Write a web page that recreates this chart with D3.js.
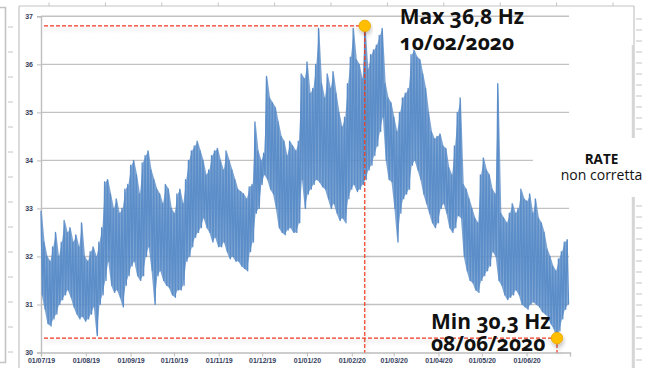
<!DOCTYPE html>
<html>
<head>
<meta charset="utf-8">
<script src="https://cdn.jsdelivr.net/npm/d3@7"></script>
<style>
  html, body { margin: 0; padding: 0; background: #fff; }
  svg { display: block; }
  .tick text { font-family: "Liberation Sans", Arial, sans-serif; }
</style>
</head>
<body>
<svg id="chart" width="648" height="368"></svg>
<script>
// Grid frequency (Hz), daily extremes sampled every two days from 01/07/2019
const startDate = new Date(2019, 6, 1);
const stepDays = 2;

const rateHigh = [
  32.95, 32.3, 32.0, 31.9, 32.2, 32.5, 32.0, 32.3, 32.75, 32.5,
  32.6, 32.3, 32.45, 32.2, 32.7, 32.0, 31.9, 32.1, 32.2, 32.0,
  32.3, 32.6, 33.55, 33.6, 33.3, 33.0, 33.2, 32.9, 33.0, 33.4,
  33.5, 33.9, 34.0, 33.7, 33.3, 33.95, 34.1, 34.2, 33.8, 33.6,
  33.4, 33.3, 33.1, 33.5, 33.4, 33.0, 32.9, 33.3, 33.4, 33.1,
  33.6, 34.0, 34.2, 34.3, 34.4, 34.2, 34.0, 33.7, 33.8, 34.1,
  34.2, 34.25, 34.0, 33.8, 34.2, 34.0, 33.8, 33.6, 33.4, 33.35,
  33.3, 33.2, 33.45, 33.5, 34.8, 34.2, 34.0, 34.15, 35.75, 35.3,
  35.2, 35.1, 34.8, 34.5, 34.4, 34.1, 34.4, 34.3, 34.2, 34.4,
  35.8, 35.7, 36.05, 35.4, 35.5, 36.0, 36.75, 35.6, 35.3, 35.8,
  35.5, 35.85, 35.4, 35.0, 34.7, 34.9, 35.6, 36.15, 36.75, 36.1,
  36.0, 35.7, 36.8, 35.9, 36.2, 36.3, 36.4, 36.6, 36.75, 35.6,
  35.3, 35.2, 34.9, 34.6, 35.0, 35.3, 35.4, 35.5, 36.2, 36.3,
  36.15, 36.1, 35.8, 35.5, 35.0, 34.6, 34.45, 34.5, 34.55, 34.3,
  34.25, 33.85, 33.7, 34.3, 35.0, 35.3, 33.5, 33.4, 33.2, 33.0,
  32.8, 32.7, 33.7, 34.05, 33.8, 33.7, 33.4, 33.3, 35.6, 32.9,
  32.8, 32.7, 32.9, 33.1, 32.9, 33.0, 33.4, 33.2, 33.15, 33.3,
  32.9, 33.2, 32.8, 32.7, 32.5, 32.15, 32.0, 31.8, 31.7, 31.95,
  32.1, 32.3, 32.35
];

const rateLow = [
  31.2, 30.9, 30.6, 30.55, 30.7, 30.8, 31.0, 31.1, 31.2, 31.3,
  31.15, 30.95, 30.8, 30.7, 30.75, 30.65, 30.7, 30.8, 30.95, 30.35,
  31.0, 31.2, 31.5, 31.9, 31.4, 31.25, 31.3, 31.15, 30.95, 31.4,
  31.6, 31.8, 31.9, 31.6, 31.5, 31.6, 32.0, 32.2, 31.7, 31.0,
  31.6, 31.7, 31.5, 31.4, 31.35, 31.2, 31.15, 31.3, 31.3, 31.4,
  31.9, 32.0, 32.2, 32.4, 32.5, 32.6, 32.8, 32.6, 32.5, 32.3,
  32.4, 32.2, 32.2, 32.3, 32.1, 31.95, 32.0, 31.9, 31.9, 31.8,
  31.75, 31.7, 32.1, 32.3, 32.9, 33.0, 33.5, 33.7, 33.6, 33.4,
  33.3, 33.0, 32.6, 32.5, 32.45, 32.55, 32.6, 32.5, 32.5, 32.7,
  33.6, 33.0, 33.3, 33.4, 33.5, 33.6, 33.55, 33.45, 33.4, 33.2,
  33.0, 33.1, 32.9, 32.75, 32.8, 32.7, 33.2, 33.4, 33.5, 33.35,
  33.4, 33.5, 33.6, 33.8, 33.9, 34.1, 34.3, 34.6, 34.9, 34.0,
  33.6, 33.55, 33.0, 32.3, 32.9, 33.2, 33.3, 33.4, 33.9, 34.0,
  33.8, 33.6, 33.3, 33.1, 32.9, 32.7, 32.6, 32.7, 33.0, 33.1,
  32.9, 32.6, 32.5, 32.6, 32.85, 32.8, 32.0, 31.7, 31.5, 31.45,
  31.3, 31.25, 31.5, 31.6, 31.7, 31.8, 32.1, 32.0, 31.5, 31.4,
  31.2, 31.1, 31.15, 31.2, 31.3, 31.2, 31.0, 30.95, 30.9, 31.0,
  31.05, 31.0, 30.95, 30.85, 30.8, 30.75, 30.6, 30.5, 30.3, 30.45,
  30.7, 30.9, 31.0
];

const yTicks = [30, 31, 32, 33, 34, 35, 36, 37];
const monthTicks = [
  "2019-07-01", "2019-08-01", "2019-09-01", "2019-10-01", "2019-11-01", "2019-12-01",
  "2020-01-01", "2020-02-01", "2020-03-01", "2020-04-01", "2020-05-01", "2020-06-01"
];
const maxText = ["Max 36,8 Hz", "10/02/2020"];
const minText = ["Min 30,3 Hz", "08/06/2020"];
const boxText = ["RATE", "non corretta"];

const svg = d3.select("#chart");
const W = 648, H = 368;
const plot = { left: 41, right: 570, top: 16.3, bottom: 352.5 };

const x = d3.scaleTime()
  .domain([startDate, new Date(2020, 6, 1)])
  .range([plot.left, plot.right]);
const y = d3.scaleLinear()
  .domain([30, 37])
  .range([plot.bottom, plot.top]);

// soft shadow used by the annotation shapes
const defs = svg.append("defs");
const sh = defs.append("filter").attr("id", "shadow")
  .attr("x", "-20%").attr("y", "-50%").attr("width", "140%").attr("height", "300%");
sh.append("feDropShadow")
  .attr("dx", 1).attr("dy", 3).attr("stdDeviation", 2.2)
  .attr("flood-color", "#000").attr("flood-opacity", 0.22);

// ---- surrounding slide frame ----
const frame = svg.append("g").attr("stroke", "#c4c4c4").attr("fill", "none");
frame.append("path").attr("d", "M0,7.5H5.5V362.5H0").attr("stroke-width", 1.6);
frame.append("line").attr("x1", 19).attr("x2", 19).attr("y1", 6).attr("y2", H).attr("stroke-width", 1.2);
frame.append("line").attr("x1", 19).attr("x2", 634).attr("y1", 6).attr("y2", 6).attr("stroke-width", 1.2);
frame.append("line").attr("x1", 634).attr("x2", 634).attr("y1", 6).attr("y2", H).attr("stroke-width", 1.2);
frame.append("line").attr("x1", 633).attr("x2", 633).attr("y1", 45).attr("y2", H).attr("stroke-width", 2.5).attr("stroke", "#d6d6d6");
frame.selectAll(".lt").data(d3.range(27, H, 25)).join("line")
  .attr("x1", 8).attr("x2", 13).attr("y1", d => d).attr("y2", d => d).attr("stroke-width", 1);
frame.selectAll(".tt").data(d3.range(49, 634, 56.4)).join("line")
  .attr("x1", d => d).attr("x2", d => d).attr("y1", 2.5).attr("y2", 6).attr("stroke-width", 1);
frame.selectAll(".rt").data(d3.range(19, H, 11)).join("line")
  .attr("x1", 636).attr("x2", 642).attr("y1", d => d).attr("y2", d => d).attr("stroke-width", 1);

// ---- gridlines ----
svg.append("g").selectAll("line").data(yTicks.filter(v => v > 30)).join("line")
  .attr("x1", plot.left).attr("x2", 569)
  .attr("y1", d => y(d)).attr("y2", d => y(d))
  .attr("stroke", "#c2c2c2").attr("stroke-width", 1.4);

// ---- axes ----
const labelColor = "#34405e";
const yAxis = svg.append("g").attr("transform", `translate(${plot.left},0)`)
  .call(d3.axisLeft(y).tickValues(yTicks).tickSize(4).tickPadding(4).tickFormat(d3.format("d")));
const xAxis = svg.append("g").attr("transform", `translate(0,${plot.bottom})`)
  .call(d3.axisBottom(x).tickValues(monthTicks.map(s => d3.timeParse("%Y-%m-%d")(s)))
    .tickSize(4).tickPadding(2).tickFormat(d3.timeFormat("%d/%m/%y")));
[yAxis, xAxis].forEach(a => {
  a.select(".domain").attr("stroke", "#bdbdbd").attr("stroke-width", 1.4);
  a.selectAll(".tick line").attr("stroke", "#bdbdbd");
  a.selectAll(".tick text").attr("fill", labelColor).attr("font-size", 7).attr("font-weight", "bold");
});

// ---- series: each sample spans its high then its low ----
const seriesColor = "#5b8dc8";
const samples = rateHigh.map((hi, i) => ({
  date: d3.timeDay.offset(startDate, i * stepDays), hi, lo: rateLow[i]
}));
const series = [];
samples.forEach(s => {
  series.push({ date: s.date, v: s.hi });
  series.push({ date: d3.timeDay.offset(s.date, 1), v: s.lo });
});

// daily range band
svg.append("path").datum(samples)
  .attr("d", d3.area()
    .x(d => x(d3.timeHour.offset(d.date, 12)))
    .y0(d => y(d.lo)).y1(d => y(d.hi)))
  .attr("fill", seriesColor).attr("fill-opacity", 0.8);

// trace
svg.append("path").datum(series)
  .attr("d", d3.line().x(d => x(d.date)).y(d => y(d.v)))
  .attr("fill", "none")
  .attr("stroke", seriesColor)
  .attr("stroke-width", 1.3)
  .attr("stroke-linejoin", "round");

// ---- extremes ----
const iMax = d3.maxIndex(rateHigh);
const iMin = d3.minIndex(rateLow);
const maxPt = { date: d3.timeDay.offset(startDate, iMax * stepDays), v: rateHigh[iMax] };
const minPt = { date: d3.timeDay.offset(startDate, iMin * stepDays + 1), v: rateLow[iMin] };

const ann = svg.append("g");
[maxPt, minPt].forEach(p => {
  const px = x(p.date), py = y(p.v);
  ann.append("path")
    .attr("d", `M${plot.left + 3},${py}H${px}M${px},${py}V${plot.bottom}`)
    .attr("fill", "none").attr("stroke", "#f03a22").attr("stroke-width", 1.2)
    .attr("stroke-dasharray", "4,2").attr("filter", "url(#shadow)");
});
[maxPt, minPt].forEach(p => {
  ann.append("circle").attr("cx", x(p.date)).attr("cy", y(p.v)).attr("r", 5.8)
    .attr("fill", "#ffbf00").attr("stroke", "#e6a400").attr("stroke-width", 0.8)
    .attr("filter", "url(#shadow)");
});

// ---- annotation labels ----
const annFont = { family: "'Open Sans', 'Noto Sans', sans-serif", size: 21 };
function label(lines, xPos, yPos, dy) {
  lines.forEach((s, k) => svg.append("text")
    .attr("x", xPos).attr("y", yPos + k * dy)
    .attr("font-family", annFont.family).attr("font-size", annFont.size)
    .attr("font-weight", "bold").attr("fill", "#111")
    .style("font-variant-numeric", "oldstyle-nums")
    .text(s));
}
label(maxText, x(maxPt.date) + 35, y(maxPt.v) - 1.5, 25.5);
label(minText, x(minPt.date) - 126, y(minPt.v) - 9.5, 22.5);

// ---- caption box ----
svg.append("rect").attr("x", 533).attr("y", 138).attr("width", W - 533).attr("height", 59).attr("fill", "#fff");
svg.append("text").attr("x", 601.5).attr("y", 163.5)
  .attr("font-family", "'Open Sans', sans-serif").attr("fill", "#111").attr("text-anchor", "middle")
  .attr("font-size", 13.5).attr("font-weight", "bold").text(boxText[0]);
svg.append("text").attr("x", 601.5).attr("y", 180)
  .attr("font-family", "'Open Sans', sans-serif").attr("fill", "#111").attr("text-anchor", "middle")
  .attr("font-size", 14).text(boxText[1]);
</script>
</body>
</html>
